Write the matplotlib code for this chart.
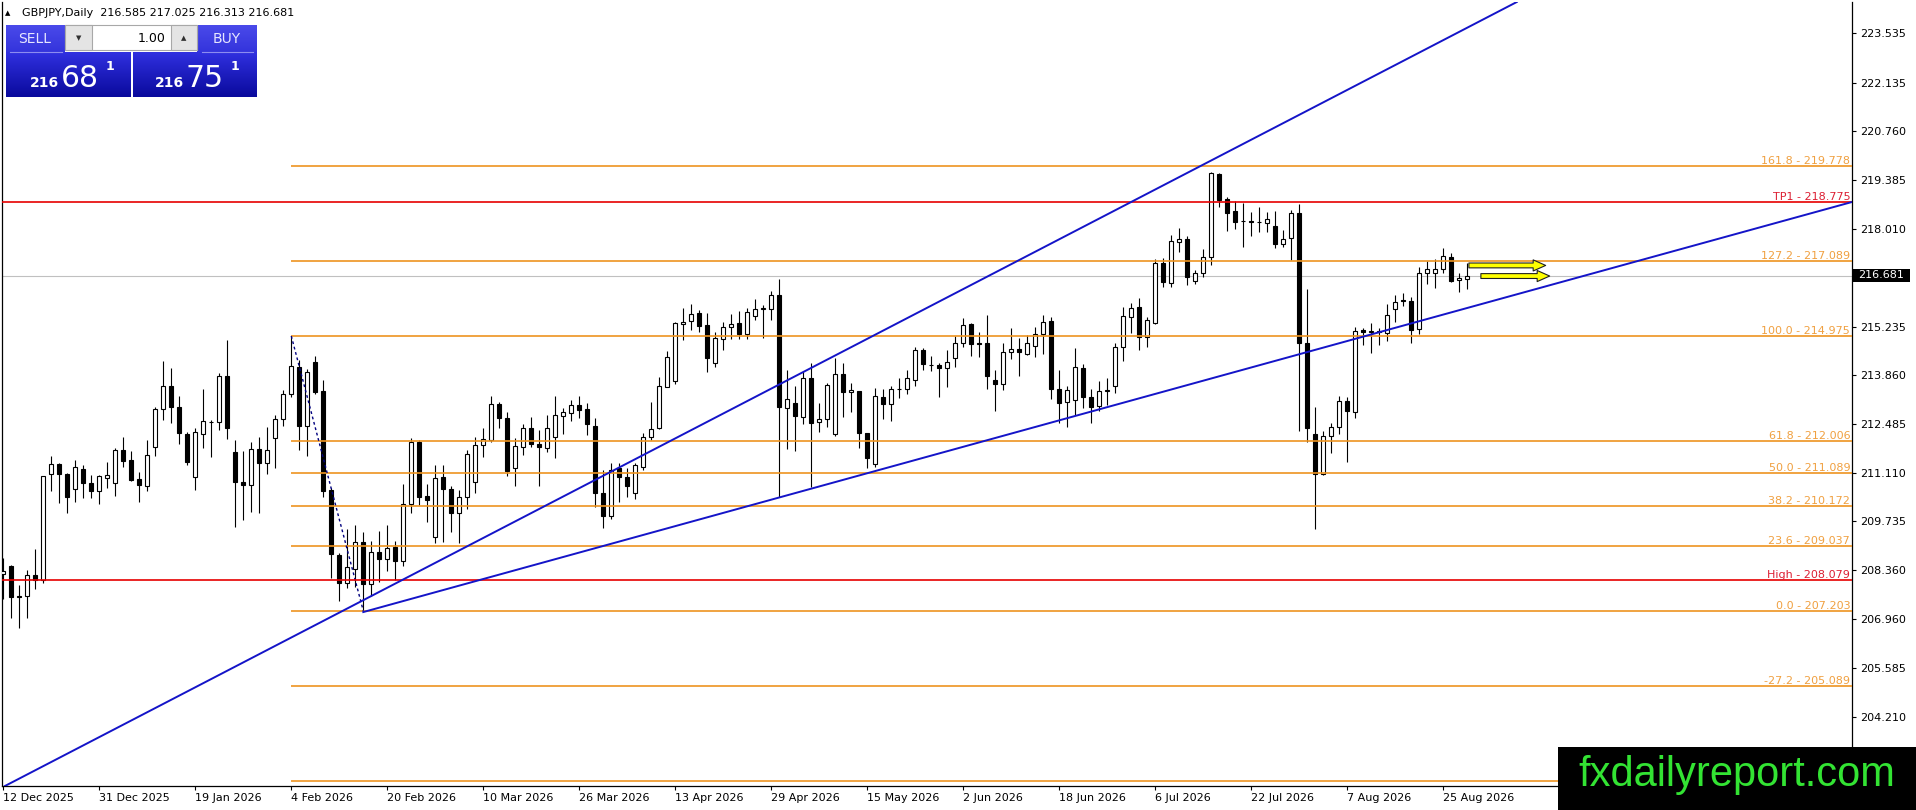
import matplotlib
matplotlib.use('Agg')
import matplotlib.pyplot as plt
import matplotlib.colors as mcolors
from matplotlib.patches import Rectangle
import numpy as np

plt.rcParams['font.family'] = ['DejaVu Sans']

# GBPJPY daily bars (oldest first)
opens = [
    208.25, 208.47, 207.61, 207.61, 208.21, 208.08, 211.07, 211.36, 211.08, 210.64,
    211.22, 210.81, 210.59, 210.95, 210.83, 211.75, 211.47, 210.93, 210.72, 211.83,
    212.90, 213.56, 212.96, 212.21, 210.98, 212.20, 212.54, 212.54, 213.83, 211.70,
    210.85, 210.76, 211.77, 211.38, 212.08, 212.62, 213.34, 214.11, 212.43, 214.23,
    213.42, 210.62, 208.79, 207.98, 208.38, 209.14, 207.96, 208.86, 208.66, 209.00,
    208.61, 210.22, 211.97, 210.45, 209.28, 210.98, 210.64, 209.98, 210.43, 210.86,
    211.89, 212.03, 213.05, 212.65, 211.23, 211.85, 212.36, 211.93, 211.82, 212.13,
    212.72, 212.81, 213.02, 212.90, 212.43, 210.54, 209.89, 211.23, 211.00, 210.53,
    211.28, 212.13, 212.36, 213.54, 213.71, 215.30, 215.41, 215.62, 215.29, 214.22,
    214.88, 215.24, 215.33, 215.02, 215.55, 215.74, 215.73, 216.13, 212.95, 213.09,
    212.69, 213.78, 212.53, 212.62, 212.19, 213.89, 213.38, 213.42, 212.22, 211.35,
    213.26, 213.04, 213.49, 213.47, 213.73, 214.58, 214.15, 214.15, 214.06, 214.34,
    214.77, 215.30, 214.77, 214.77, 213.73, 213.62, 214.51, 214.60, 214.46, 214.69,
    215.03, 215.40, 213.49, 213.10, 213.17, 214.06, 213.24, 213.00, 213.42, 213.56,
    214.65, 215.52, 215.80, 214.96, 215.35, 217.03, 216.48, 217.64, 217.72, 216.54,
    216.77, 217.20, 219.55, 218.84, 218.52, 218.23, 218.21, 218.19, 218.16, 218.08,
    217.59, 217.74, 218.44, 214.79, 212.20, 211.07, 212.15, 212.39, 213.15, 212.83,
    215.14, 215.10, 215.10, 215.07, 215.73, 215.98, 215.97, 215.16, 216.77, 216.77,
    216.87, 217.22, 216.56, 216.585]
highs = [
    208.69, 208.50, 207.94, 208.36, 208.95, 211.03, 211.57, 211.38, 211.09, 211.47,
    211.33, 211.05, 211.05, 211.42, 211.80, 212.13, 211.73, 211.14, 212.04, 212.96,
    214.27, 214.08, 213.28, 212.25, 212.37, 213.48, 212.60, 213.94, 214.85, 212.04,
    211.73, 211.99, 212.11, 212.41, 212.74, 213.45, 214.975, 214.30, 214.04, 214.41,
    213.73, 210.67, 208.83, 209.51, 209.63, 209.44, 209.19, 209.47, 209.63, 209.19,
    210.79, 212.08, 212.04, 210.79, 211.33, 211.33, 210.72, 210.62, 211.75, 212.13,
    212.37, 213.28, 213.12, 212.84, 212.08, 212.48, 212.69, 212.32, 212.74, 213.28,
    212.93, 213.17, 213.28, 213.07, 212.67, 211.20, 211.39, 211.39, 211.23, 211.39,
    212.24, 213.11, 213.81, 214.56, 215.38, 215.76, 215.88, 215.71, 215.63, 215.10,
    215.38, 215.61, 215.69, 215.76, 216.02, 215.85, 216.25, 216.59, 214.01, 213.57,
    213.98, 214.20, 213.07, 213.66, 214.34, 214.20, 213.66, 213.42, 212.22, 213.50,
    213.48, 213.57, 213.78, 214.00, 214.67, 214.63, 214.42, 214.20, 214.58, 214.97,
    215.49, 215.33, 215.10, 215.57, 214.01, 214.77, 215.19, 214.91, 215.00, 215.24,
    215.57, 215.52, 214.01, 213.56, 214.63, 214.18, 213.47, 213.71, 213.78, 214.77,
    215.80, 215.90, 216.04, 215.52, 217.14, 217.17, 217.83, 218.02, 217.80, 216.84,
    217.43, 219.62, 219.59, 218.91, 218.80, 218.73, 218.49, 218.63, 218.49, 218.52,
    217.97, 218.54, 218.70, 216.29, 212.98, 212.30, 212.52, 213.28, 213.24, 215.22,
    215.19, 215.35, 215.19, 215.88, 216.13, 216.18, 216.09, 216.92, 217.10, 217.15,
    217.45, 217.33, 216.75, 217.025]
lows = [
    207.53, 207.01, 206.71, 207.00, 207.81, 207.98, 210.58, 210.25, 209.98, 210.29,
    210.39, 210.39, 210.22, 210.67, 210.46, 211.26, 210.88, 210.27, 210.59, 211.58,
    212.60, 212.51, 211.92, 211.33, 210.62, 211.80, 211.55, 212.32, 212.06, 209.57,
    209.77, 210.01, 209.98, 211.08, 211.24, 212.43, 213.24, 211.74, 211.57, 213.34,
    210.43, 208.13, 207.49, 207.84, 207.89, 207.203, 207.61, 208.03, 208.34, 208.08,
    208.48, 209.96, 210.20, 209.73, 209.12, 209.16, 209.42, 209.13, 210.08, 210.55,
    211.54, 211.99, 212.36, 211.03, 210.73, 211.61, 211.83, 210.73, 211.70, 211.52,
    212.20, 212.58, 212.65, 212.18, 210.15, 209.56, 209.79, 210.29, 210.43, 210.37,
    211.19, 212.03, 212.34, 213.52, 213.62, 214.86, 215.14, 215.08, 213.97, 214.11,
    214.58, 214.89, 214.89, 214.89, 215.43, 214.91, 215.43, 210.43, 211.77, 211.73,
    212.50, 210.71, 212.25, 212.41, 212.16, 212.69, 212.83, 211.82, 211.23, 211.26,
    212.62, 212.57, 213.23, 213.33, 213.57, 214.01, 213.98, 213.26, 213.54, 214.11,
    214.67, 214.42, 214.39, 213.47, 212.86, 213.45, 214.32, 213.83, 214.44, 214.39,
    214.48, 213.18, 212.51, 212.41, 212.74, 212.93, 212.51, 212.86, 213.02, 213.35,
    214.28, 215.07, 214.58, 214.67, 215.31, 216.35, 216.35, 217.36, 216.42, 216.45,
    216.65, 216.98, 218.63, 217.95, 217.99, 217.50, 217.80, 217.92, 217.92, 217.45,
    217.50, 217.12, 212.30, 211.99, 209.51, 211.04, 211.66, 212.20, 211.42, 212.67,
    214.72, 214.50, 214.72, 214.83, 215.38, 215.82, 214.79, 215.03, 216.44, 216.32,
    216.77, 216.51, 216.23, 216.313]
closes = [
    208.34, 207.59, 207.60, 208.21, 208.08, 211.02, 211.36, 211.08, 210.43, 211.26,
    210.81, 210.60, 211.02, 211.05, 211.75, 211.45, 210.91, 210.75, 211.60, 212.90,
    213.56, 212.98, 212.23, 211.42, 212.25, 212.57, 212.55, 213.85, 212.37, 210.86,
    210.76, 211.77, 211.38, 211.74, 212.62, 213.34, 214.14, 212.43, 213.95, 213.40,
    210.58, 208.80, 207.98, 208.44, 209.14, 207.96, 208.86, 208.66, 208.97, 208.61,
    210.22, 211.97, 210.43, 210.34, 210.95, 210.64, 209.98, 210.43, 211.63, 211.89,
    212.05, 213.04, 212.65, 211.17, 211.86, 212.36, 211.91, 211.83, 212.36, 212.73,
    212.82, 213.02, 212.88, 212.49, 210.54, 209.88, 211.20, 211.00, 210.73, 211.33,
    212.11, 212.34, 213.56, 214.39, 215.35, 215.38, 215.60, 215.27, 214.36, 214.91,
    215.24, 215.30, 215.03, 215.64, 215.73, 215.75, 216.13, 212.97, 213.18, 212.72,
    213.78, 212.52, 212.62, 213.59, 213.90, 213.38, 213.45, 212.22, 211.52, 213.29,
    213.04, 213.47, 213.47, 213.78, 214.58, 214.17, 214.16, 214.06, 214.25, 214.77,
    215.29, 214.74, 214.76, 213.83, 213.62, 214.51, 214.60, 214.51, 214.79, 215.03,
    215.36, 213.49, 213.07, 213.45, 214.09, 213.26, 212.98, 213.42, 213.43, 214.65,
    215.54, 215.78, 214.96, 215.43, 217.03, 216.51, 217.66, 217.72, 216.65, 216.77,
    217.22, 219.57, 218.82, 218.44, 218.21, 218.22, 218.20, 218.20, 218.27, 217.57,
    217.71, 218.44, 214.79, 212.37, 211.07, 212.15, 212.41, 213.15, 212.86, 215.13,
    215.10, 215.10, 215.11, 215.57, 215.95, 215.97, 215.14, 216.77, 216.86, 216.86,
    217.25, 216.54, 216.61, 216.681]

date_labels = ['12 Dec 2025', '31 Dec 2025', '19 Jan 2026', '4 Feb 2026', '20 Feb 2026',
               '10 Mar 2026', '26 Mar 2026', '13 Apr 2026', '29 Apr 2026', '15 May 2026',
               '2 Jun 2026', '18 Jun 2026', '6 Jul 2026', '22 Jul 2026', '7 Aug 2026',
               '25 Aug 2026']
date_step = 12

price_ticks = [223.535, 222.135, 220.760, 219.385, 218.010, 215.235, 213.860,
               212.485, 211.110, 209.735, 208.360, 206.960, 205.585, 204.210]

# fibonacci drawn from the Feb high to the Feb low
fib_high, fib_high_bar = 214.975, 36
fib_low, fib_low_bar = 207.203, 45
fib_levels = [-61.8, -27.2, 0.0, 23.6, 38.2, 50.0, 61.8, 100.0, 127.2, 161.8]
fib_hidden_labels = [-61.8]  # label sits under the watermark

tp1 = 218.775
prev_high = 208.079
bid, ask = 216.681, 216.751
bar_ohlc = '216.585 217.025 216.313 216.681'

# trendlines as (bar, price) anchor pairs
steep_line = [(38.3, 206.72), (121.0, 216.42)]
support_line = [(45.0, 207.17), (184.0, 215.83)]
# yellow arrows: start bar, end bar, price
arrow_rows = [(183.2, 192.8, 216.97), (184.7, 193.3, 216.67)]

ORANGE = '#EE9420'
ORANGE_TXT = '#F0A040'
RED = '#E60000'
RED_TXT = '#DC1E32'
BLUE = '#1414C8'

W, H = 1916, 810
fig = plt.figure(figsize=(W / 100, H / 100), dpi=100)
ax = fig.add_axes([2 / W, 24 / H, 1850 / W, 784 / H])
ax.set_facecolor('white')

n = len(closes)
bars = np.arange(n)
xmin, xmax = -0.16, 231.09

# candles
ax.vlines(bars, lows, highs, color='black', lw=0.8, zorder=2)
for i in range(n):
    o, c = opens[i], closes[i]
    fc = 'white' if c >= o else 'black'
    ax.add_patch(Rectangle((i - 0.25, min(o, c)), 0.5, max(abs(c - o), 0.015),
                           facecolor=fc, edgecolor='black', lw=0.8, zorder=3))

# bid line
ax.axhline(bid, color='#C0C0C0', lw=0.8, zorder=1)

# fib levels
rng = fib_high - fib_low
for lvl in fib_levels:
    p = fib_low + rng * lvl / 100.0
    ax.hlines(p, fib_high_bar, xmax, color=ORANGE, lw=1.2, zorder=5)
    if lvl in fib_hidden_labels:
        continue
    ax.text(0.999, p, f'{lvl:.1f} - {p:.3f}', color=ORANGE_TXT, fontsize=8,
            ha='right', va='bottom', transform=ax.get_yaxis_transform(), zorder=6)
ax.plot([fib_high_bar, fib_low_bar], [fib_high, fib_low], color='#000080',
        lw=1.0, ls=(0, (2, 2)), zorder=5)

# horizontal red lines
for p, name in [(tp1, 'TP1'), (prev_high, 'High')]:
    ax.axhline(p, color=RED, lw=1.2, zorder=5)
    ax.text(0.999, p, f'{name} - {p:.3f}', color=RED_TXT, fontsize=8,
            ha='right', va='bottom', transform=ax.get_yaxis_transform(), zorder=6)

# trendlines
ax.axline(steep_line[0], steep_line[1], color=BLUE, lw=1.4, zorder=6)
(x0, y0), (x1, y1) = support_line
slope = (y1 - y0) / (x1 - x0)
ax.plot([x0, xmax], [y0, y0 + slope * (xmax - x0)], color=BLUE, lw=1.4, zorder=6)

# arrows
for b0, b1, p in arrow_rows:
    ax.annotate('', xy=(b1, p), xytext=(b0, p),
                arrowprops=dict(arrowstyle='simple,head_length=0.9,head_width=0.8,tail_width=0.35',
                                fc='#FFFF00', ec='#202020', lw=0.8, shrinkA=0, shrinkB=0),
                zorder=7)

ax.set_xlim(xmin, xmax)
ax.set_ylim(202.252, 224.418)

ax.yaxis.tick_right()
ax.set_yticks(price_ticks)
ax.set_yticklabels([f'{v:.3f}' for v in price_ticks])
ax.tick_params(axis='y', direction='out', length=3, width=0.8, pad=3, labelsize=8)
ax.set_xticks(np.arange(0, n, date_step)[:len(date_labels)])
ax.set_xticklabels(date_labels)
for lab in ax.get_xticklabels():
    lab.set_ha('left')
ax.tick_params(axis='x', direction='out', length=3, width=0.8, pad=2, labelsize=8)
for side in ['left', 'right', 'bottom']:
    ax.spines[side].set_linewidth(0.9)
ax.spines['top'].set_visible(False)

# overlay in pixel units for the trading panel and watermark
ui = fig.add_axes([0, 0, 1, 1], zorder=10)
ui.patch.set_alpha(0)
ui.axis('off')


def grad_box(x0, y0, x1, y1, top, bottom):
    c0 = np.array(mcolors.to_rgb(top))
    c1 = np.array(mcolors.to_rgb(bottom))
    t = np.linspace(0, 1, 64)[:, None, None]
    img = c0 * (1 - t) + c1 * t
    ui.imshow(img, extent=(x0, x1, y1, y0), aspect='auto', interpolation='bilinear', zorder=2)


ui.text(5, 13, '\u25B2', fontsize=5, va='center', color='black')
ui.text(22, 13, f'GBPJPY,Daily  {bar_ohlc}', fontsize=8, va='center', color='black')

# sell / buy buttons
grad_box(6, 25, 65, 52, '#4A4AEA', '#3434DC')
grad_box(6, 52, 131, 97, '#3030E0', '#0A0A9C')
grad_box(197, 25, 257, 52, '#4A4AEA', '#3434DC')
grad_box(133, 52, 257, 97, '#3030E0', '#0A0A9C')
ui.plot([10, 62], [52, 52], color='#8C8CF0', lw=0.8, zorder=3)
ui.plot([202, 253], [52, 52], color='#8C8CF0', lw=0.8, zorder=3)
ui.text(35, 39, 'SELL', color='#E6E6FF', fontsize=10, ha='center', va='center', zorder=4)
ui.text(227, 39, 'BUY', color='#E6E6FF', fontsize=10, ha='center', va='center', zorder=4)

# lot size box
ui.add_patch(Rectangle((65, 25), 132, 25, fc='white', ec='#A8A8A8', lw=0.8, zorder=3))
ui.add_patch(Rectangle((65, 25), 27, 25, fc='#E4E4E4', ec='#A8A8A8', lw=0.8, zorder=3))
ui.add_patch(Rectangle((171, 25), 26, 25, fc='#E4E4E4', ec='#A8A8A8', lw=0.8, zorder=3))
ui.text(78.5, 38, '\u25BC', fontsize=5, ha='center', va='center', color='#303030', zorder=4)
ui.text(184, 38, '\u25B2', fontsize=5, ha='center', va='center', color='#303030', zorder=4)
ui.text(166, 38, '1.00', fontsize=9, ha='right', va='center', color='black', zorder=4)

for price, xl in [(bid, 30), (ask, 155)]:
    s = f'{price:.3f}'
    big, small, pip = s[:3], s[4:6], s[6]
    ui.text(xl, 87, big, color='white', fontsize=10, fontweight='bold', va='baseline', zorder=4)
    ui.text(xl + 31, 87, small, color='white', fontsize=21.5, va='baseline', zorder=4)
    ui.text(xl + 76, 70, pip, color='white', fontsize=9, fontweight='bold', va='baseline', zorder=4)

# bid label on the price scale
ui.add_patch(Rectangle((1853, 269), 57, 13, fc='black', ec='none', zorder=3))
ui.text(1858, 275.5, f'{bid:.3f}', color='white', fontsize=8, va='center', zorder=4)

# watermark
ui.add_patch(Rectangle((1558, 747), 358, 63, fc='black', ec='none', zorder=5))
ui.text(1737, 775, 'fxdailyreport.com', color='#33E333', fontsize=30,
        family='Liberation Sans', ha='center', va='center', zorder=6)

ui.set_xlim(0, W)
ui.set_ylim(H, 0)

fig.savefig('out.png', dpi=100, facecolor='white')
